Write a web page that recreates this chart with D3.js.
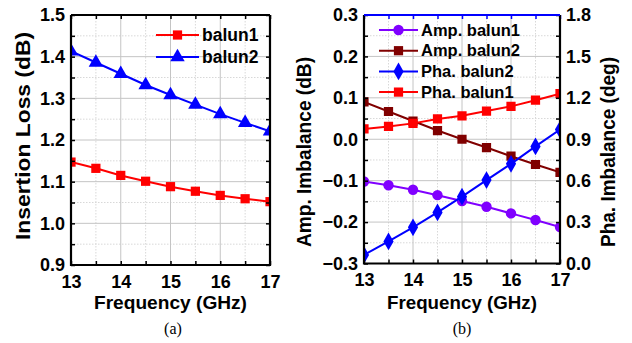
<!DOCTYPE html>
<html><head><meta charset="utf-8">
<script src="https://cdn.jsdelivr.net/npm/d3@7/dist/d3.min.js"></script>
<style>
body{margin:0;background:#fff}
svg text{font-family:"Liberation Sans",Arial,sans-serif;font-weight:bold;fill:#000}
</style></head><body>
<svg id="c" width="632" height="343"></svg>
<script>
// ---------- data ----------
const freq = [13, 13.5, 14, 14.5, 15, 15.5, 16, 16.5, 17];
const ilBalun1 = [1.147, 1.132, 1.115, 1.101, 1.088, 1.077, 1.067, 1.059, 1.052];
const ilBalun2 = [1.413, 1.386, 1.359, 1.332, 1.308, 1.285, 1.262, 1.241, 1.221];
const ampBalun1 = [-0.102, -0.111, -0.122, -0.135, -0.149, -0.163, -0.179, -0.195, -0.212];
const ampBalun2 = [0.090, 0.067, 0.044, 0.021, 0.000, -0.020, -0.041, -0.061, -0.080];
const phaBalun2 = [0.062, 0.160, 0.262, 0.370, 0.484, 0.604, 0.722, 0.848, 0.970];
const phaBalun1 = [0.975, 0.993, 1.015, 1.047, 1.070, 1.104, 1.138, 1.183, 1.230];
const xTicks = [13, 14, 15, 16, 17];
const xMinor = [13.5, 14.5, 15.5, 16.5];
const ilTicks = [0.9, 1.0, 1.1, 1.2, 1.3, 1.4, 1.5];
const ilMinor = [0.95, 1.05, 1.15, 1.25, 1.35, 1.45];
const ampTicks = [-0.3, -0.2, -0.1, 0.0, 0.1, 0.2, 0.3];
const ampMinor = [-0.25, -0.15, -0.05, 0.05, 0.15, 0.25];
const phaTicks = [0.0, 0.3, 0.6, 0.9, 1.2, 1.5, 1.8];
const phaMinor = [0.15, 0.45, 0.75, 1.05, 1.35, 1.65];

const svg = d3.select("#c");
const defs = svg.append("defs");

function panel(o){
  const g = svg.append("g");
  const x = d3.scaleLinear().domain([13,17]).range([o.x0,o.x1]);
  const y = d3.scaleLinear().domain(o.yDom).range([o.y1,o.y0]);
  const yr = o.yrDom ? d3.scaleLinear().domain(o.yrDom).range([o.y1,o.y0]) : null;
  // grid
  const grid = g.append("g");
  grid.selectAll(".mx").data(xMinor).join("line")
    .attr("x1",d=>x(d)).attr("x2",d=>x(d)).attr("y1",o.y0).attr("y2",o.y1)
    .attr("stroke","#d8d8d8").attr("stroke-dasharray","1.5,1.5");
  grid.selectAll(".my").data(o.yMinor).join("line")
    .attr("x1",o.x0).attr("x2",o.x1).attr("y1",d=>y(d)).attr("y2",d=>y(d))
    .attr("stroke","#d8d8d8").attr("stroke-dasharray","1.5,1.5");
  grid.selectAll(".Mx").data(xTicks).join("line")
    .attr("x1",d=>x(d)).attr("x2",d=>x(d)).attr("y1",o.y0).attr("y2",o.y1)
    .attr("stroke","#c4c4c4");
  grid.selectAll(".My").data(o.yTicks).join("line")
    .attr("x1",o.x0).attr("x2",o.x1).attr("y1",d=>y(d)).attr("y2",d=>y(d))
    .attr("stroke","#c4c4c4");
  // clip
  const cid = "clip"+o.id;
  defs.append("clipPath").attr("id",cid).append("rect")
    .attr("x",o.x0).attr("y",o.y0).attr("width",o.x1-o.x0).attr("height",o.y1-o.y0);
  const sg = g.append("g").attr("clip-path",`url(#${cid})`);
  o.series.forEach(s=>{
    const sc = s.right ? yr : y;
    sg.append("path").datum(s.vals)
      .attr("d", d3.line().x((d,i)=>x(freq[i])).y(d=>sc(d)))
      .attr("fill","none").attr("stroke",s.color).attr("stroke-width",2);
    sg.selectAll(null).data(s.vals).join("path")
      .attr("transform",(d,i)=>`translate(${x(freq[i])},${sc(d)})`)
      .attr("d", d3.symbol().type(s.sym).size(s.size)).attr("fill",s.color);
  });
  // axes (ticks inward)
  const fmt = d3.format(".1f");
  const ax = (gen, tr) => g.append("g").attr("transform",tr).call(gen);
  const style = sel => { sel.selectAll("path.domain").remove(); sel.selectAll("line").attr("stroke","#000").attr("stroke-width",1.5);
    sel.selectAll("text").attr("font-size",18).attr("font-family",null); };
  style(ax(d3.axisBottom(x).tickValues(xTicks).tickSize(-4).tickPadding(10).tickFormat(d3.format("d")),`translate(0,${o.y1})`));
  style(ax(d3.axisBottom(x).tickValues(xMinor).tickSize(-4).tickFormat(""),`translate(0,${o.y1})`));
  const topSel = ax(d3.axisTop(x).tickValues(xTicks.concat(xMinor)).tickSize(-4).tickFormat(""),`translate(0,${o.y0})`);
  style(topSel); topSel.selectAll("line").attr("stroke",o.topColor);
  style(ax(d3.axisLeft(y).tickValues(o.yTicks).tickSize(-4).tickPadding(6).tickFormat(fmt),`translate(${o.x0},0)`));
  style(ax(d3.axisLeft(y).tickValues(o.yMinor).tickSize(-4).tickFormat(""),`translate(${o.x0},0)`));
  if(yr){
    style(ax(d3.axisRight(yr).tickValues(o.yrTicks).tickSize(-4).tickPadding(6).tickFormat(fmt),`translate(${o.x1},0)`));
    style(ax(d3.axisRight(yr).tickValues(o.yrMinor).tickSize(-4).tickFormat(""),`translate(${o.x1},0)`));
  } else {
    style(ax(d3.axisRight(y).tickValues(o.yTicks.concat(o.yMinor)).tickSize(-4).tickFormat(""),`translate(${o.x1},0)`));
  }
  // frame
  g.append("path").attr("d",`M${o.x0},${o.y0}V${o.y1}H${o.x1}V${o.y0}`)
    .attr("fill","none").attr("stroke","#000").attr("stroke-width",2.2);
  g.append("line").attr("x1",o.x0).attr("x2",o.x1).attr("y1",o.y0).attr("y2",o.y0)
    .attr("stroke",o.topColor).attr("stroke-width",2.2);
  // legend
  o.series.forEach((s,i)=>{
    const ly = o.leg.y + i*o.leg.dy;
    g.append("line").attr("x1",o.leg.x0).attr("x2",o.leg.x1).attr("y1",ly).attr("y2",ly)
      .attr("stroke",s.color).attr("stroke-width",2);
    g.append("path").attr("transform",`translate(${(o.leg.x0+o.leg.x1)/2},${ly})`)
      .attr("d",d3.symbol().type(s.sym).size(s.size)).attr("fill",s.color);
    g.append("text").attr("x",o.leg.tx).attr("y",ly).attr("dy","0.35em")
      .attr("font-size",o.leg.fs).text(s.name);
  });
  // titles
  g.append("text").attr("x",(o.x0+o.x1)/2).attr("y",309).attr("text-anchor","middle")
    .attr("font-size",18).attr("textLength",o.xtLen).attr("lengthAdjust","spacingAndGlyphs")
    .text("Frequency (GHz)");
  g.append("text").attr("transform",`translate(${o.ytX},${o.ytY}) rotate(-90)`)
    .attr("text-anchor","middle").attr("font-size",o.ytSize).attr("textLength",o.ytLen)
    .attr("lengthAdjust","spacingAndGlyphs").text(o.yTitle);
  if(yr){
    g.append("text").attr("transform",`translate(${o.yrtX},${o.yrtY}) rotate(-90)`)
      .attr("text-anchor","middle").attr("font-size",o.ytSize).attr("textLength",o.yrtLen)
      .attr("lengthAdjust","spacingAndGlyphs").text(o.yrTitle);
  }
  g.append("text").attr("x",o.capX).attr("y",334).attr("text-anchor","middle")
    .style("font-family","'Liberation Serif','Times New Roman',serif").style("font-weight","normal")
    .attr("font-size",16).text(o.cap);
}

panel({id:"a", x0:71, x1:270, y0:15, y1:265, yDom:[0.9,1.5], yTicks:ilTicks, yMinor:ilMinor,
  topColor:"#000",
  series:[
    {name:"balun1", vals:ilBalun1, color:"#ff0000", sym:d3.symbolSquare, size:85},
    {name:"balun2", vals:ilBalun2, color:"#0000ff", sym:d3.symbolTriangle, size:90}
  ],
  leg:{x0:156, x1:199, tx:202, y:35, dy:22, fs:17.5},
  xtLen:153, yTitle:"Insertion Loss (dB)", ytX:30, ytY:136, ytSize:21, ytLen:208,
  cap:"(a)", capX:173});

panel({id:"b", x0:364, x1:560, y0:15, y1:263.5, yDom:[-0.3,0.3], yTicks:ampTicks, yMinor:ampMinor,
  yrDom:[0,1.8], yrTicks:phaTicks, yrMinor:phaMinor, topColor:"#0000ff",
  series:[
    {name:"Amp. balun1", vals:ampBalun1, color:"#8000ff", sym:d3.symbolCircle, size:85},
    {name:"Amp. balun2", vals:ampBalun2, color:"#800000", sym:d3.symbolSquare, size:85},
    {name:"Pha. balun2", vals:phaBalun2, color:"#0000ff", sym:d3.symbolDiamond, size:90, right:true},
    {name:"Pha. balun1", vals:phaBalun1, color:"#ff0000", sym:d3.symbolSquare, size:85, right:true}
  ],
  leg:{x0:379, x1:418, tx:421, y:30, dy:20.7, fs:16.5},
  xtLen:150, yTitle:"Amp. Imbalance (dB)", ytX:311, ytY:152, ytSize:20, ytLen:190,
  yrTitle:"Pha. Imbalance (deg)", yrtX:615, yrtY:152, yrtLen:190,
  cap:"(b)", capX:462});
</script></body></html>
